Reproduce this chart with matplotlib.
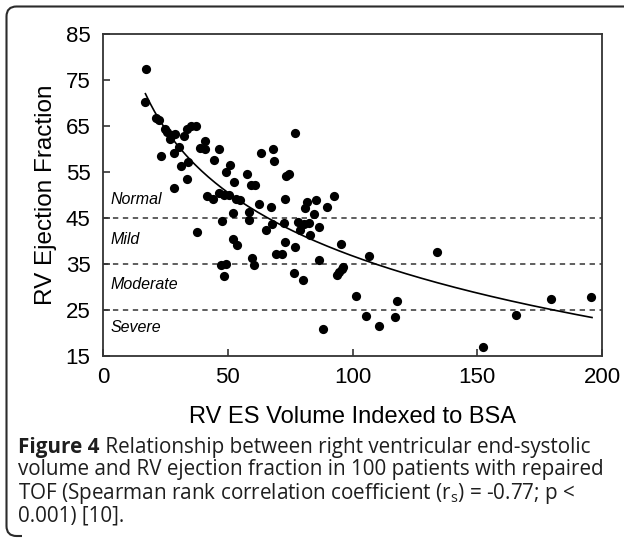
import matplotlib
matplotlib.use("Agg")
import matplotlib.pyplot as plt
from matplotlib.path import Path
from matplotlib.patches import PathPatch
import numpy as np

plt.rcParams['font.family'] = ['Liberation Sans', 'DejaVu Sans']
plt.rcParams['mathtext.fontset'] = 'custom'
plt.rcParams['mathtext.rm'] = 'Open Sans'

# RV end-systolic volume index vs RV ejection fraction
es_volume = [17.4, 16.7, 21.1, 22.6, 23.1, 24.7, 25.8, 27.0, 27.8, 29.0,
             28.5, 28.4, 30.6, 31.4, 32.4, 33.8, 34.1, 33.5, 35.4, 37.3,
             37.8, 38.9, 41.0, 41.0, 41.5, 43.9, 44.3, 46.3, 46.6, 47.8,
             47.4, 48.5, 49.4, 49.4, 50.9, 50.6, 52.6, 53.3, 52.2, 52.0,
             53.7, 57.7, 58.7, 58.4, 59.3, 61.1, 59.8, 60.4, 62.7, 63.5,
             65.4, 67.5, 68.1, 68.6, 67.6, 69.2, 71.8, 72.4, 72.9, 72.9,
             73.4, 74.5, 77.0, 76.8, 76.4, 80.1, 78.1, 78.8, 80.5, 80.9,
             81.7, 82.5, 83.0, 84.5, 85.2, 86.4, 86.4, 88.0, 89.6, 92.5,
             93.6, 94.7, 95.7, 96.3, 95.4, 101.3, 105.6, 106.5, 110.7, 117.1,
             118.0, 134.0, 152.5, 165.7, 179.4, 195.4, 48.5, 55.0]
ejection_fraction = [77.3, 70.3, 66.7, 66.4, 58.5, 64.3, 63.6, 62.1, 63.1, 63.3,
                     59.1, 51.5, 60.5, 56.3, 62.9, 64.3, 57.2, 53.4, 65.1, 65.1,
                     42.0, 60.3, 61.8, 60.1, 49.8, 49.2, 57.6, 59.9, 50.4, 44.3,
                     34.7, 32.5, 35.0, 55.0, 56.5, 50.1, 52.8, 49.2, 46.0, 40.4,
                     39.1, 54.5, 46.2, 44.6, 52.1, 52.1, 36.3, 34.7, 48.1, 59.1,
                     42.4, 47.3, 59.9, 57.4, 43.7, 37.2, 37.2, 44.0, 49.1, 39.7,
                     54.1, 54.5, 63.5, 38.8, 33.0, 31.5, 44.2, 42.4, 43.8, 47.1,
                     48.4, 44.0, 41.4, 45.8, 49.0, 43.1, 35.9, 20.8, 47.3, 49.8,
                     32.7, 33.2, 33.9, 34.3, 39.4, 28.1, 23.7, 36.8, 21.5, 23.5,
                     27.0, 37.6, 16.9, 24.0, 27.3, 27.9, 50.0, 49.0]

# logarithmic fit drawn in the figure: EF = a - b*ln(vol)
fit_a, fit_b = 128.4, 19.9
fit_range = (17.0, 196.0)

grade_cutoffs = [45, 35, 25]
grade_labels = ['Normal', 'Mild', 'Moderate', 'Severe']
grade_label_y = [49.0, 40.3, 30.5, 21.1]

caption_bold = 'Figure 4'
caption_lines = [
    ' Relationship between right ventricular end-systolic',
    'volume and RV ejection fraction in 100 patients with repaired',
    r'TOF (Spearman rank correlation coefficient (r$_\mathregular{s}$) = -0.77; p <',
    '0.001) [10].',
]

fig = plt.figure(figsize=(6.24, 5.44), dpi=100)

# pixel overlay for the frame and caption
bg = fig.add_axes([0, 0, 1, 1], zorder=0)
bg.set_xlim(0, 624)
bg.set_ylim(544, 0)
bg.axis('off')

r = 10
x0, y0, y1 = 6.5, 6.5, 536
verts = [(22, y1), (x0 + r, y1), (x0, y1), (x0, y1 - r), (x0, y0 + r),
         (x0, y0), (x0 + r, y0), (640, y0)]
codes = [Path.MOVETO, Path.LINETO, Path.CURVE3, Path.CURVE3, Path.LINETO,
         Path.CURVE3, Path.CURVE3, Path.LINETO]
bg.add_patch(PathPatch(Path(verts, codes), fill=False, lw=1.5, ec='#2b2b2b'))

ax = fig.add_axes([103 / 624, 1 - 356 / 544, 499 / 624, 322 / 544], zorder=1)

ax.scatter(es_volume, ejection_fraction, s=44, c='black', zorder=3, lw=0)

xf = np.linspace(fit_range[0], fit_range[1], 200)
ax.plot(xf, fit_a - fit_b * np.log(xf), color='black', lw=1.2, zorder=2)

for c in grade_cutoffs:
    ax.axhline(c, color='#333333', lw=1.1, ls=(0, (3.5, 3)), zorder=1)
for lab, yy in zip(grade_labels, grade_label_y):
    ax.text(3.2, yy, lab, fontsize=11.5, style='italic', va='center', ha='left')

ax.set_xlim(0, 200)
ax.set_ylim(15, 85)
ax.set_xticks([0, 50, 100, 150, 200])
ax.set_yticks([15, 25, 35, 45, 55, 65, 75, 85])
ax.tick_params(direction='in', length=5, width=1.2, labelsize=16, color='#333333')
ax.tick_params(axis='y', pad=9)
ax.tick_params(axis='x', pad=8)
for s in ax.spines.values():
    s.set_linewidth(1.3)
    s.set_color('#333333')

ax.set_xlabel('RV ES Volume Indexed to BSA', fontsize=17, labelpad=13)
ax.set_ylabel('RV Ejection Fraction', fontsize=17.5, labelpad=6)

# caption
cap_font = dict(family=['Open Sans', 'DejaVu Sans'], fontsize=14.9, color='#1e1e1e', va='center')
line_y = [447, 470, 493, 516]
t = bg.text(18, line_y[0], caption_bold, fontweight='bold', **cap_font)
fig.canvas.draw()
bb = t.get_window_extent()
x_after = bb.x1  # pixels == data units here
bg.text(x_after, line_y[0], caption_lines[0], **cap_font)
for txt, yy in zip(caption_lines[1:], line_y[1:]):
    bg.text(18, yy, txt, **cap_font)

fig.savefig('out.png', dpi=100)
